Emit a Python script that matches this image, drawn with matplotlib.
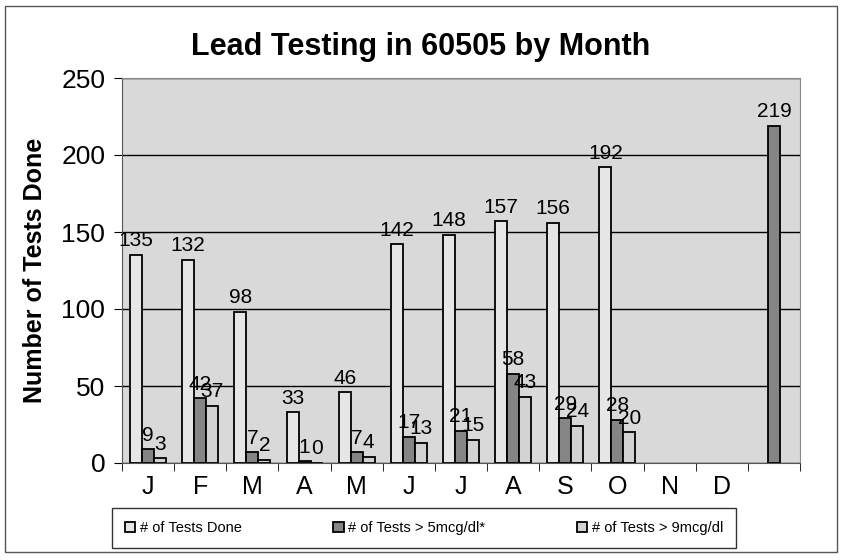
import numpy as np
import matplotlib
matplotlib.use("Agg")
import matplotlib.pyplot as plt
from matplotlib.patches import Rectangle

plt.rcParams["font.family"] = ["Liberation Sans", "DejaVu Sans"]

# Data
months = ["J", "F", "M", "A", "M", "J", "J", "A", "S", "O", "N", "D", ""]
tests_done = [135, 132, 98, 33, 46, 142, 148, 157, 156, 192, np.nan, np.nan, np.nan]
tests_over5 = [9, 42, 7, 1, 7, 17, 21, 58, 29, 28, np.nan, np.nan, 219]
tests_over9 = [3, 37, 2, 0, 4, 13, 15, 43, 24, 20, np.nan, np.nan, np.nan]
series_names = ["# of Tests Done", "# of Tests > 5mcg/dl*", "# of Tests > 9mcg/dl"]

fig = plt.figure(figsize=(8.42, 5.6), dpi=100)
ax = fig.add_axes([122 / 842, 1 - 463 / 560, 678 / 842, 385 / 560])
ax.set_facecolor("#d9d9d9")

x = np.arange(len(months))
w = 0.23
colors = ["#e6e6e6", "#858585", "#d2d2d2"]
all_series = [tests_done, tests_over5, tests_over9]

for i, (vals, col, name) in enumerate(zip(all_series, colors, series_names)):
    pos = x + (i - 1) * w
    ax.bar(pos, vals, w, color=col, edgecolor="black", linewidth=1.3,
           label=name, zorder=3)
    for p, v in zip(pos, vals):
        if not np.isnan(v):
            ax.text(p, v + 3, f"{int(v)}", ha="center", va="bottom",
                    fontsize=15, zorder=4)

ax.set_ylim(0, 250)
ax.set_xlim(-0.5, len(months) - 0.5)
ax.set_yticks(range(0, 251, 50))
ax.yaxis.grid(True, color="black", linewidth=1.0, zorder=1)
ax.tick_params(axis="y", labelsize=19, length=6, direction="out", pad=6)

ax.set_xticks(x)
ax.set_xticklabels(months, fontsize=18)
ax.tick_params(axis="x", which="major", length=0, pad=9)
ax.set_xticks(np.arange(-0.5, len(months), 1), minor=True)
ax.tick_params(axis="x", which="minor", length=6, direction="out")

for side in ["top", "right"]:
    ax.spines[side].set_color("#888888")
ax.spines["left"].set_color("#555555")
ax.spines["bottom"].set_color("#555555")

ax.set_ylabel("Number of Tests Done", fontsize=18, fontweight="bold", labelpad=10)
fig.text(0.5, 1 - 47 / 560, "Lead Testing in 60505 by Month", ha="center",
         va="center", fontsize=22, fontweight="bold")

leg = fig.legend(loc="center", bbox_to_anchor=(424 / 842, 1 - 528 / 560), ncol=3,
                 fontsize=10.5, frameon=True, fancybox=False, edgecolor="black",
                 handlelength=0.7, handleheight=0.7, handletextpad=0.3,
                 columnspacing=6.3, borderpad=0.9)
leg.get_frame().set_linewidth(1.0)

fig.patches.append(Rectangle((5 / 842, 8 / 560), 832 / 842, 546 / 560,
                             transform=fig.transFigure, fill=False,
                             edgecolor="#555555", linewidth=1.0))

fig.savefig("out.png", dpi=100)
